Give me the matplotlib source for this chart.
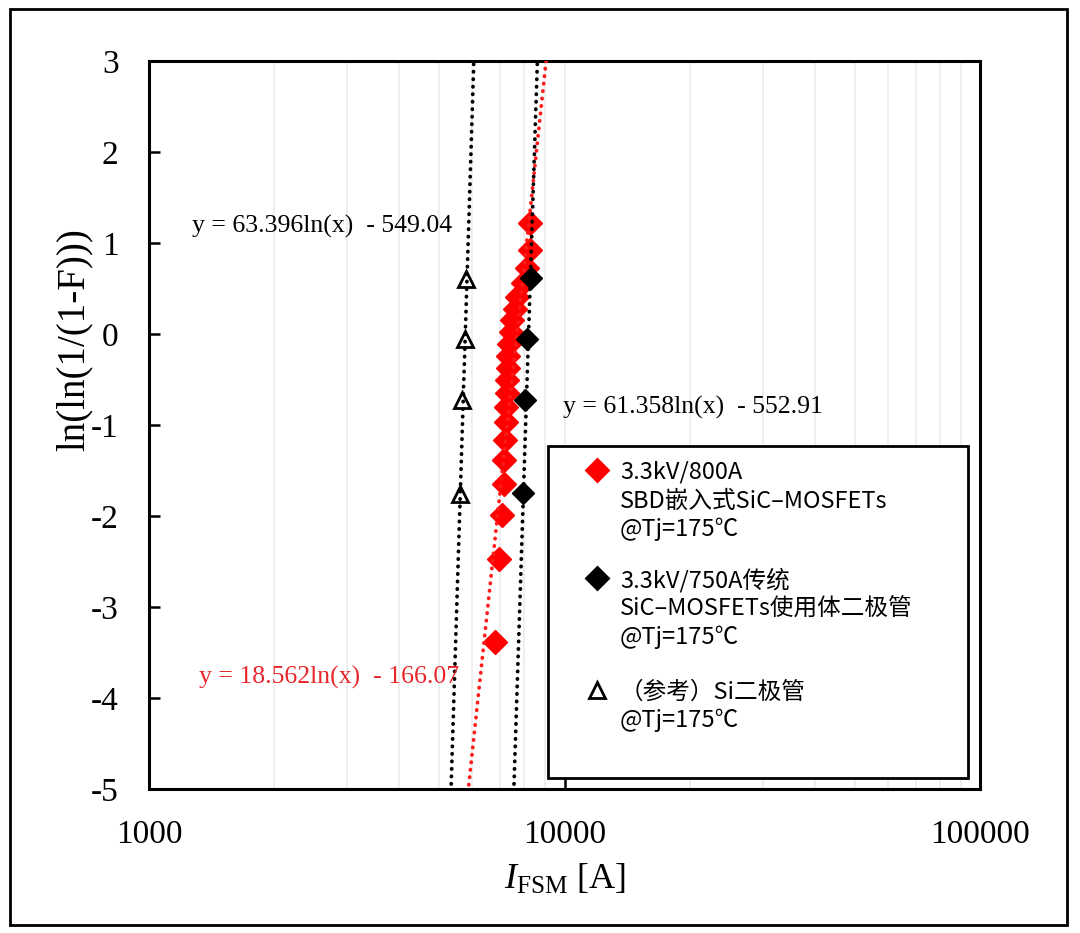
import numpy as np
import matplotlib.pyplot as plt
from matplotlib.patches import Rectangle
from matplotlib.lines import Line2D
from matplotlib.ticker import LogLocator, NullFormatter

plt.rcParams['mathtext.fontset'] = 'custom'
plt.rcParams['mathtext.rm'] = 'Liberation Serif'
plt.rcParams['mathtext.it'] = 'Liberation Serif:italic'
plt.rcParams['axes.unicode_minus'] = False

W, H = 1080, 933

# 3.3kV/800A SBD-embedded SiC-MOSFETs (red diamonds)
red_x = [6810, 6950, 7080, 7150, 7170, 7200, 7230, 7250, 7270, 7290, 7310,
         7330, 7360, 7420, 7480, 7600, 7690, 7950, 8110, 8260, 8280]
red_y = [-3.38, -2.47, -1.99, -1.65, -1.38, -1.16, -0.97, -0.80, -0.65, -0.50, -0.37,
         -0.24, -0.11, 0.02, 0.15, 0.28, 0.41, 0.56, 0.72, 0.92, 1.22]

# 3.3kV/750A conventional SiC-MOSFETs body diode (black diamonds)
blk_x = [7960, 8030, 8130, 8300]
blk_y = [-1.75, -0.72, -0.05, 0.61]

# reference Si diode (open triangles)
tri_x = [5600, 5660, 5760, 5790]
tri_y = [-1.76, -0.73, -0.06, 0.60]

# log trend lines  y = a*ln(x) + b
red_fit = (18.562, -166.07)
blk_fit = (61.358, -552.91)
tri_fit = (63.396, -549.04)

x_ticks = [1000, 10000, 100000]
y_ticks = [-5, -4, -3, -2, -1, 0, 1, 2, 3]

serif = 'Liberation Serif'
cjk = ['Noto Sans CJK SC', 'DejaVu Sans']


def fxy(x, y):
    # pixel position -> figure fraction
    return x / W, 1 - y / H


fig = plt.figure(figsize=(W / 100, H / 100), dpi=100)
ax = fig.add_axes([149 / W, 1 - 789 / H, 831 / W, 728 / H])
ax.set_xscale('log')
ax.set_xlim(1000, 100000)
ax.set_ylim(-5, 3)

xx = np.logspace(3, 5, 4000)
for (a, b), c in [(tri_fit, 'black'), (red_fit, '#ff1a1a'), (blk_fit, 'black')]:
    ax.plot(xx, a * np.log(xx) + b, color=c, lw=2.7, ls=(0, (0.1, 1.9)),
            dash_capstyle='round', zorder=4)

ax.plot(red_x, red_y, 'D', color='#ff0000', ms=12, mec='#ff0000', zorder=3, ls='none')
ax.plot(tri_x, tri_y, '^', color='black', mfc='white', ms=12, mew=2, zorder=3, ls='none')
ax.plot(blk_x, blk_y, 'D', color='black', ms=11, zorder=5, ls='none')

ax.set_xticks(x_ticks)
ax.set_xticklabels([str(v) for v in x_ticks])
ax.set_yticks(y_ticks)
ax.set_yticklabels([str(v) for v in y_ticks])
ax.xaxis.set_minor_locator(LogLocator(base=10, subs=np.arange(2, 10)))
ax.xaxis.set_minor_formatter(NullFormatter())
ax.grid(True, which='both', axis='x', color='#ececec', lw=1.2, zorder=0)
ax.set_axisbelow(True)
ax.tick_params(which='major', direction='in', length=8, width=1.8, pad=22)
ax.tick_params(which='minor', length=0)
for lab in ax.get_xticklabels() + ax.get_yticklabels():
    lab.set_fontfamily(serif)
    lab.set_fontsize(24)
for sp in ax.spines.values():
    sp.set_linewidth(2.2)

# axis labels
fig.text(*fxy(74, 340), 'ln(ln(1/(1-F)))', rotation=90, ha='center', va='center',
         family=serif, fontsize=28)
fig.text(*fxy(565, 880), r'$I_{\mathrm{FSM}}$ [A]', ha='center', va='center',
         family=serif, fontsize=26)

# trend-line equations
fig.text(*fxy(192, 226), 'y = 63.396ln(x)  - 549.04', family=serif, fontsize=18.5,
         va='center', ha='left')
fig.text(*fxy(563, 407), 'y = 61.358ln(x)  - 552.91', family=serif, fontsize=18.5,
         va='center', ha='left')
fig.text(*fxy(199, 677), 'y = 18.562ln(x)  - 166.07', family=serif, fontsize=18.5,
         va='center', ha='left', color='#e8262a')

# legend box
fig.patches.append(Rectangle(fxy(548, 778), 420 / W, 332 / H, transform=fig.transFigure,
                             facecolor='white', edgecolor='black', lw=2, zorder=6))
legend_marks = [('D', '#ff0000', '#ff0000', 470), ('D', 'black', 'black', 578),
                ('^', 'white', 'black', 690)]
for m, fc, ec, py in legend_marks:
    fig.add_artist(Line2D([597 / W], [1 - py / H], transform=fig.transFigure, marker=m,
                          ms=11, mfc=fc, mec=ec, mew=2, ls='none', zorder=7))
legend_lines = [('3.3kV/800A', 472), ('SBD嵌入式SiC–MOSFETs', 501), ('@Tj=175℃', 529),
                ('3.3kV/750A传统', 580), ('SiC–MOSFETs使用体二极管', 608), ('@Tj=175℃', 637),
                ('（参考）Si二极管', 692), ('@Tj=175℃', 720)]
for s, py in legend_lines:
    fig.text(*fxy(620, py), s, family=cjk, fontsize=17, va='center', ha='left', zorder=8)

# outer frame
fig.patches.append(Rectangle(fxy(10, 925), 1057 / W, 916 / H, transform=fig.transFigure,
                             fill=False, edgecolor='black', lw=2))

fig.savefig('out.png', dpi=100)
